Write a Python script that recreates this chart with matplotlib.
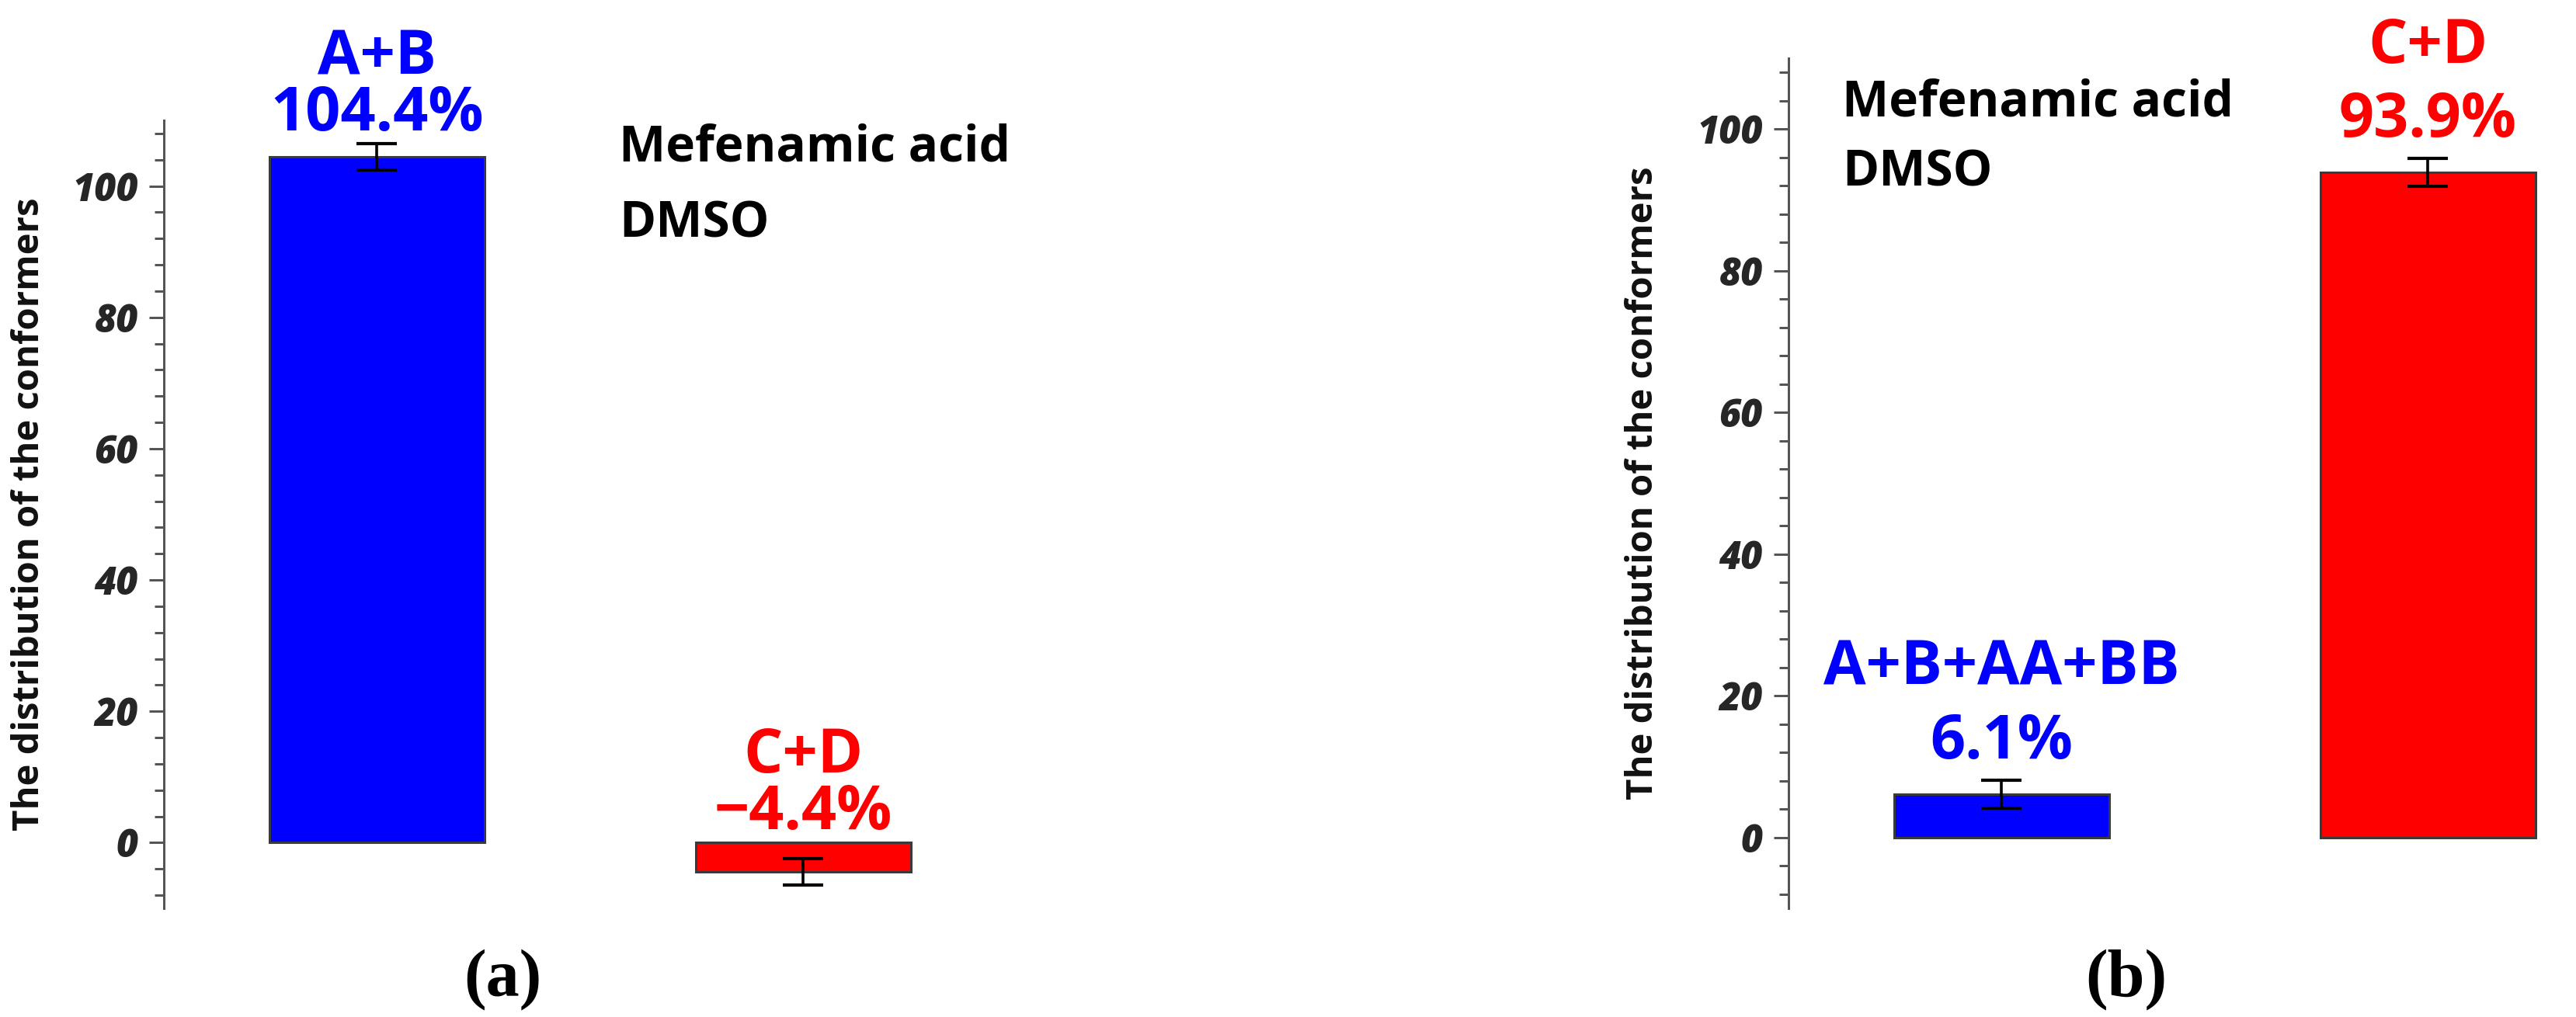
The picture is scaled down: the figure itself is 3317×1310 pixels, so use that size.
import matplotlib
matplotlib.use("Agg")
import matplotlib.pyplot as plt
import numpy as np

# ---- data ----
categories_a = ["A+B", "C+D"]
values_a = [104.4, -4.4]
errors_a = [2.0, 2.0]
labels_a = ["104.4%", "\u22124.4%"]

categories_b = ["A+B+AA+BB", "C+D"]
values_b = [6.1, 93.9]
errors_b = [2.0, 2.0]
labels_b = ["6.1%", "93.9%"]

bar_colors = ["#0000FF", "#FF0000"]
y_ticks = [0, 20, 40, 60, 80, 100]
y_label = "The distribution of the conformers"
annot_lines = ["Mefenamic acid", "DMSO"]
panel_tags = ["(a)", "(b)"]

W, H = 3317, 1310
DPI = 100
fig = plt.figure(figsize=(W / DPI, H / DPI), dpi=DPI)
SANS = ["Open Sans", "DejaVu Sans"]
px = 72.0 / DPI  # points per pixel


def fx(x):
    return x / W


def fy(y):
    return 1 - y / H


def make_panel(left_px, top_px, bottom_px, cats, vals, errs, labs, gap_px, step_px, ylab_px):
    width_px = 988
    ax = fig.add_axes([fx(left_px), fy(bottom_px), width_px / W, (bottom_px - top_px) / H])
    xs = np.arange(1, len(vals) + 1)
    ax.bar(xs, vals, width=0.505, color=bar_colors, edgecolor="#3a3a3a", linewidth=2.2, zorder=2)
    ax.errorbar(xs, vals, yerr=errs, fmt="none", ecolor="black", elinewidth=2.6,
                capsize=18.4, capthick=3.0, zorder=3)
    ax.set_xlim(0.5, 2.3)
    ax.set_ylim(-10, 110)
    ax.set_yticks(y_ticks)
    ax.set_yticks(np.arange(-8, 110, 4), minor=True)
    for s in ["top", "right", "bottom"]:
        ax.spines[s].set_visible(False)
    ax.spines["left"].set_color("#555555")
    ax.spines["left"].set_linewidth(3.0 * px)
    ax.tick_params(axis="x", bottom=False, labelbottom=False)
    ax.tick_params(axis="y", which="major", length=19 * px, width=3 * px, color="#555555",
                   pad=14 * px, labelsize=35, labelcolor="#262626")
    ax.tick_params(axis="y", which="minor", length=12 * px, width=3 * px, color="#555555")
    for t in ax.get_yticklabels():
        t.set_fontfamily(SANS)
        t.set_fontweight(800)
        t.set_fontstyle("italic")
    ax.set_ylabel(y_label, fontsize=34, fontweight="bold", family=SANS, color="#111111")
    ax.yaxis.set_label_coords((ylab_px - left_px) / width_px, 0.5)
    for x, v, e, c, lab, col in zip(xs, vals, errs, cats, labs, bar_colors):
        anchor = max(v + e, 0) if v >= 0 else 0
        ax.annotate(lab, (x, anchor), xytext=(0, gap_px * px), textcoords="offset points",
                    ha="center", va="baseline", fontsize=57, fontweight="bold",
                    family=SANS, color=col)
        ax.annotate(c, (x, anchor), xytext=(0, (gap_px + step_px) * px), textcoords="offset points",
                    ha="center", va="baseline", fontsize=57, fontweight="bold",
                    family=SANS, color=col)
    return ax


make_panel(211, 155, 1170, categories_a, values_a, errors_a, labels_a, 17, 73, 61)
make_panel(2303, 75, 1170, categories_b, values_b, errors_b, labels_b, 28, 95, 2139)

# annotation text
for (x0, y0, y1) in [(797, 207, 305), (2372, 150, 240)]:
    fig.text(fx(x0), fy(y0), annot_lines[0], fontsize=46, fontweight="bold", family=SANS,
             color="black", va="baseline", ha="left")
    fig.text(fx(x0), fy(y1), annot_lines[1], fontsize=46, fontweight="bold", family=SANS,
             color="black", va="baseline", ha="left")

# panel tags
for xc, tag in [(647, panel_tags[0]), (2738, panel_tags[1])]:
    fig.text(fx(xc), fy(1282), tag, fontsize=62, fontweight="bold",
             family=["Liberation Serif", "DejaVu Serif"], ha="center", va="baseline")

fig.savefig("out.png", dpi=DPI)
